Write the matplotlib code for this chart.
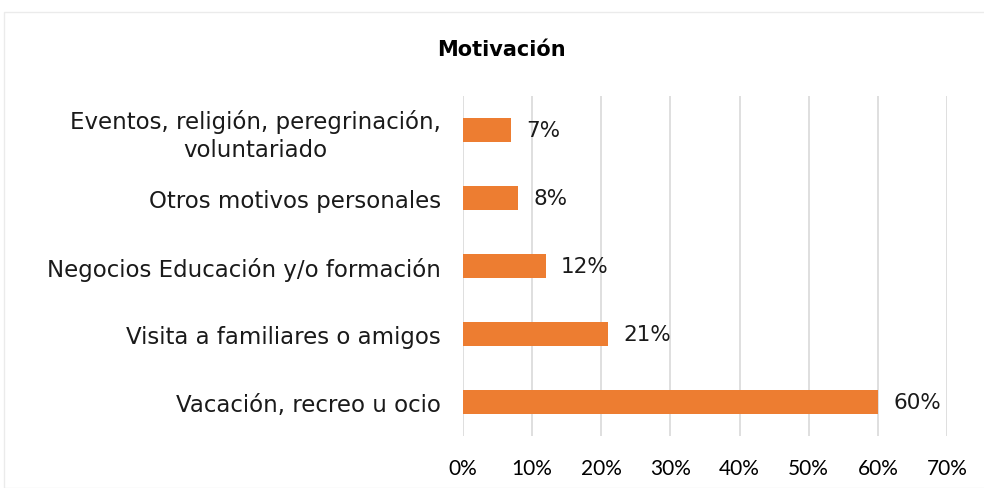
import matplotlib.pyplot as plt
from matplotlib.patches import Rectangle
from matplotlib.ticker import PercentFormatter

categorias = ["Vacación, recreo u ocio",
              "Visita a familiares o amigos",
              "Negocios Educación y/o formación",
              "Otros motivos personales",
              "Eventos, religión, peregrinación,\nvoluntariado"]
porcentajes = [60, 21, 12, 8, 7]

plt.rcParams['font.family'] = ['DejaVu Sans']

fig = plt.figure(figsize=(9.84, 4.89), dpi=100)
ax = fig.add_axes([0.4705, 0.1063, 0.4919, 0.6953])

ax.barh(range(len(categorias)), porcentajes, height=0.35, color="#ED7D31", zorder=3)
for i, v in enumerate(porcentajes):
    ax.text(v + 2.2, i, f"{v}%", va="center", ha="left", fontsize=15.5, color="#1a1a1a")

ax.set_xlim(0, 70)
ax.set_ylim(-0.5, 4.5)
ax.set_xticks(range(0, 71, 10))
ax.xaxis.set_major_formatter(PercentFormatter(decimals=0))
ax.set_yticks(range(len(categorias)))
ax.set_yticklabels(categorias, fontsize=16.5, linespacing=1.3, multialignment="center",
                   color="#1a1a1a")
ax.tick_params(axis="y", length=0, pad=16)
ax.tick_params(axis="x", length=0, pad=16)
for lbl in ax.get_xticklabels():
    lbl.set_fontfamily(['Lato', 'DejaVu Sans'])
    lbl.set_fontsize(15)
ax.grid(axis="x", color="#D9D9D9", linewidth=1.2, zorder=0)
for s in ax.spines.values():
    s.set_visible(False)

fig.text(0.510, 0.897, "Motivación", ha="center", va="center", fontsize=15, fontweight="bold")
fig.patches.append(Rectangle((0.004, 0.0), 1.2, 0.974, transform=fig.transFigure,
                             fill=False, edgecolor="#EBEBEB", linewidth=1))

fig.savefig("out.png", dpi=100)
